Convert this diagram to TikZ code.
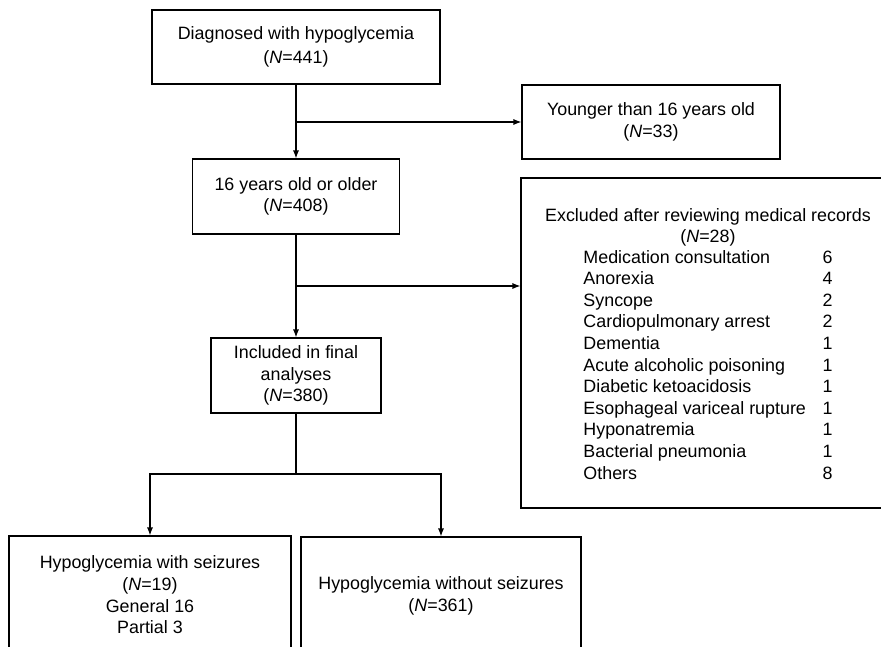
\documentclass[tikz,border=0pt]{standalone}
\usepackage{fontspec}
\setmainfont{Liberation Sans}
\usepackage{tikz}
\usetikzlibrary{arrows.meta,positioning}

\tikzset{
  flowbox/.style={draw, line width=0.8pt, align=center, inner sep=0pt,
    font=\fontsize{13.4}{16.2}\selectfont},
  flowline/.style={line width=0.8pt, >={Latex[length=6pt,width=4.5pt]}}
}

\begin{document}
\begin{tikzpicture}[x=0.75pt,y=-0.75pt]
    \useasboundingbox (0,0) rectangle (881,646);
    \clip (0,0) rectangle (881,646);

    % main column
    \node[flowbox, minimum width=216pt, minimum height=55.5pt,
      font=\fontsize{13.4}{18}\selectfont] (diag) at (296,47)
      {Diagnosed with hypoglycemia\\(\textit{N}=441)};
    \node[flowbox, minimum width=155.25pt, minimum height=56.25pt] (older) at (296,196.5)
      {16 years old or older\\(\textit{N}=408)};
    \node[flowbox, minimum width=127.5pt, minimum height=56.25pt] (incl) at (296,375.5)
      {Included in final\\analyses\\(\textit{N}=380)};

    % exclusions
    \node[flowbox, minimum width=193.5pt, minimum height=55.5pt] (young) at (651,122)
      {Younger than 16 years old\\(\textit{N}=33)};
    \node[flowbox, minimum width=280.5pt, minimum height=247.5pt] (excl) at (708,343)
      {};
    \node[align=center, inner sep=0pt, font=\fontsize{13.4}{16.2}\selectfont]
      (exclist) at (708,347)
      {Excluded after reviewing medical records\\(\textit{N}=28)\\
       \begin{tabular}{@{}l@{\hspace{12.5pt}}l@{}}
         Medication consultation & 6\\
         Anorexia & 4\\
         Syncope & 2\\
         Cardiopulmonary arrest & 2\\
         Dementia & 1\\
         Acute alcoholic poisoning & 1\\
         Diabetic ketoacidosis & 1\\
         Esophageal variceal rupture & 1\\
         Hyponatremia & 1\\
         Bacterial pneumonia & 1\\
         Others & 8
       \end{tabular}};

    % groups
    \node[flowbox, minimum width=211.5pt, minimum height=88.5pt] (withs) at (150,595)
      {Hypoglycemia with seizures\\(\textit{N}=19)\\General 16\\Partial 3};
    \node[flowbox, minimum width=210pt, minimum height=88.5pt] (withouts) at (441,596)
      {Hypoglycemia without seizures\\(\textit{N}=361)};

    % connectors
    \coordinate (brk) at (296,286);
    \coordinate (split) at (296,474);
    \draw[flowline,->] (diag) -- (older);
    \draw[flowline,->] (diag.south |- young.west) -- (young.west);
    \draw[flowline,->] (older) -- (incl);
    \draw[flowline,->] (brk) -- (brk -| excl.west);
    \draw[flowline] (incl) -- (split);
    \draw[flowline,->] (split) -| (withs);
    \draw[flowline,->] (split) -| (withouts);
\end{tikzpicture}
\end{document}
